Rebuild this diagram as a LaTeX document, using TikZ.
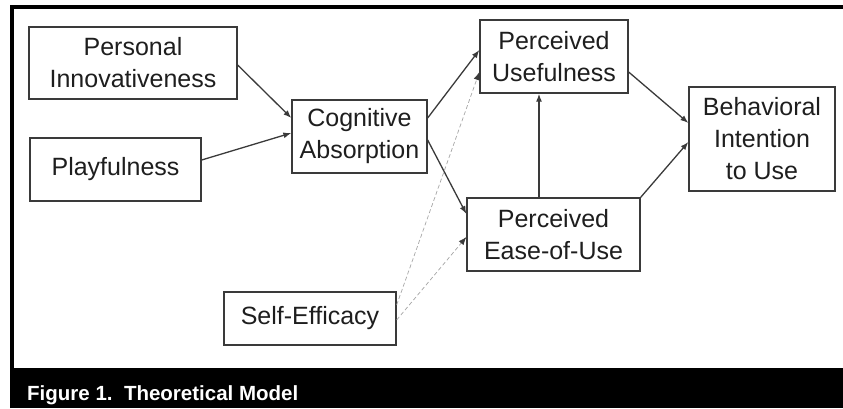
\documentclass[tikz,border=0pt]{standalone}
\usepackage{fontspec}
\setmainfont{Liberation Sans}
\usetikzlibrary{arrows.meta}
\definecolor{ink}{HTML}{1E1E1E}
\definecolor{boxline}{HTML}{3A3A3A}
\tikzset{
  cbox/.style={draw=boxline, line width=1.3pt, inner sep=0pt, align=center,
    text=ink, font=\fontsize{25}{32}\selectfont},
  conn/.style={draw=boxline, line width=1.3pt, -{Latex[length=8pt,width=6pt]}},
  dconn/.style={draw=gray!70, line width=0.7pt, dash pattern=on 4pt off 2.5pt,
    -{Latex[length=8pt,width=6pt,color=boxline]}},
}
\begin{document}
\begin{tikzpicture}[x=1pt,y=-1pt]
\useasboundingbox (0,0) rectangle (843,408);
% frame
\fill[black] (10,368) rectangle (843,408);
\draw[black, line width=4pt] (12,408) -- (12,7) -- (843,7);
\node[anchor=base west, text=white, font=\bfseries\fontsize{20.5}{24}\selectfont, inner sep=0pt] (cap) at (27,400) {Figure 1.\ \ Theoretical Model};
% boxes
\node[cbox, minimum width=208pt, minimum height=72pt] (pi) at (133,63) {Personal\\Innovativeness};
\node[cbox, minimum width=171pt, minimum height=63pt] (play) at (115.5,169.5) {Playfulness};
\node[cbox, minimum width=135pt, minimum height=73pt] (ca) at (359.5,136.5) {Cognitive\\Absorption};
\node[cbox, minimum width=148pt, minimum height=73pt] (pu) at (554,56.5) {Perceived\\Usefulness};
\node[cbox, minimum width=173pt, minimum height=73pt] (peou) at (553.5,234.5) {Perceived\\Ease-of-Use};
\node[cbox, minimum width=146pt, minimum height=104pt] (bi) at (762,139) {Behavioral\\Intention\\to Use};
\node[cbox, minimum width=172pt, minimum height=53pt] (se) at (310,318.5) {Self-Efficacy};
% connectors
\draw[conn] ([yshift=-2pt]pi.east) -- ([yshift=18.5pt]ca.west);
\draw[conn] ([yshift=9.5pt]play.east) -- ([yshift=3.5pt]ca.west);
\draw[conn] ([yshift=18.5pt]ca.east) -- ([yshift=6.5pt]pu.west);
\draw[conn] ([yshift=-3.5pt]ca.east) -- ([yshift=20.5pt]peou.west);
\draw[dconn] ([yshift=13.5pt]se.east) -- ([yshift=-15.5pt]pu.west);
\draw[dconn] ([yshift=-1.5pt]se.east) -- ([yshift=-2.5pt]peou.west);
\draw[conn] ([xshift=-14.5pt]peou.north) -- ([xshift=-15pt]pu.south);
\draw[conn] ([yshift=-15.5pt]pu.east) -- ([yshift=16pt]bi.west);
\draw[conn] (peou.north east) -- ([yshift=-3pt]bi.west);
\end{tikzpicture}
\end{document}
